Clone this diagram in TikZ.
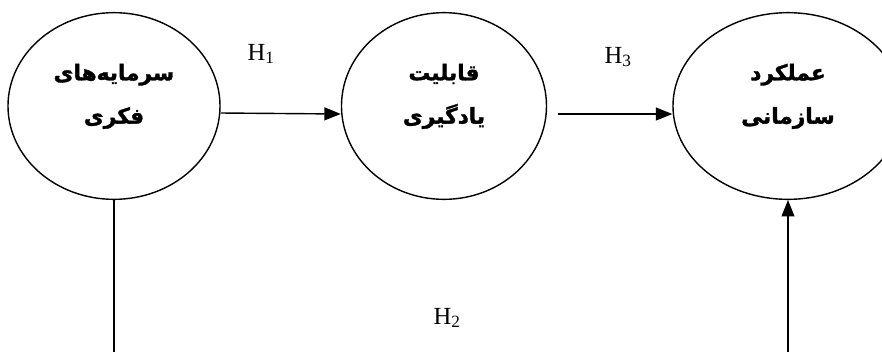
\documentclass[tikz,border=0pt]{standalone}
\usepackage{fontspec}
\setmainfont{Liberation Serif}
\newfontfamily\arabicfont[Script=Arabic, BoldFont={DejaVu Sans Bold}, BoldFeatures={FakeBold=1.5}]{DejaVu Sans}
\TeXXeTstate=1
\usetikzlibrary{arrows.meta,shapes.geometric,positioning,calc}

\begin{document}
\begin{tikzpicture}[x=0.03cm,y=-0.03cm,
		var/.style={draw, ellipse, line width=1.2pt, inner sep=0pt, align=center, text depth=21pt,
			font=\arabicfont\bfseries\fontsize{18.5}{37}\selectfont},
		hyp/.style={font=\fontsize{21}{24}\selectfont},
		link/.style={line width=1.2pt, -{Triangle[length=14pt,width=11pt]}}]
		\clip (0,0) rectangle (882,351);

		\node[var, minimum width=6.36cm, minimum height=5.6cm] (fk) at (114,106) {\beginR سرمایه‌های\endR\\ \beginR فکری\endR};
		\node[var, minimum width=6.15cm, minimum height=5.6cm] (yd) at (444,106) {\beginR قابلیت\endR\\ \beginR یادگیری\endR};
		\node[var, minimum width=6.9cm, minimum height=5.6cm] (ak) at (788,106) {\beginR عملکرد\endR\\ \beginR سازمانی\endR};

		\node[hyp] (h1) at (261,54) {H\textsubscript{1}};
		\node[hyp] (h3) at (618,57) {H\textsubscript{3}};
		\node[hyp] (h2) at (447,318) {H\textsubscript{2}};

		\draw[link] ([yshift=-0.21cm]fk.east) -- ([yshift=-0.24cm]yd.west);
		\draw[link] ([xshift=0.33cm,yshift=-0.24cm]yd.east) -- ([yshift=-0.24cm]ak.west);

		% lines leave the bottom edge
		\coordinate (low) at (0,370);
		\draw[line width=1.2pt] (fk.south) -- (fk.south |- low);
		\draw[link] (ak.south |- low) -- (ak.south);
	\end{tikzpicture}
\end{document}
